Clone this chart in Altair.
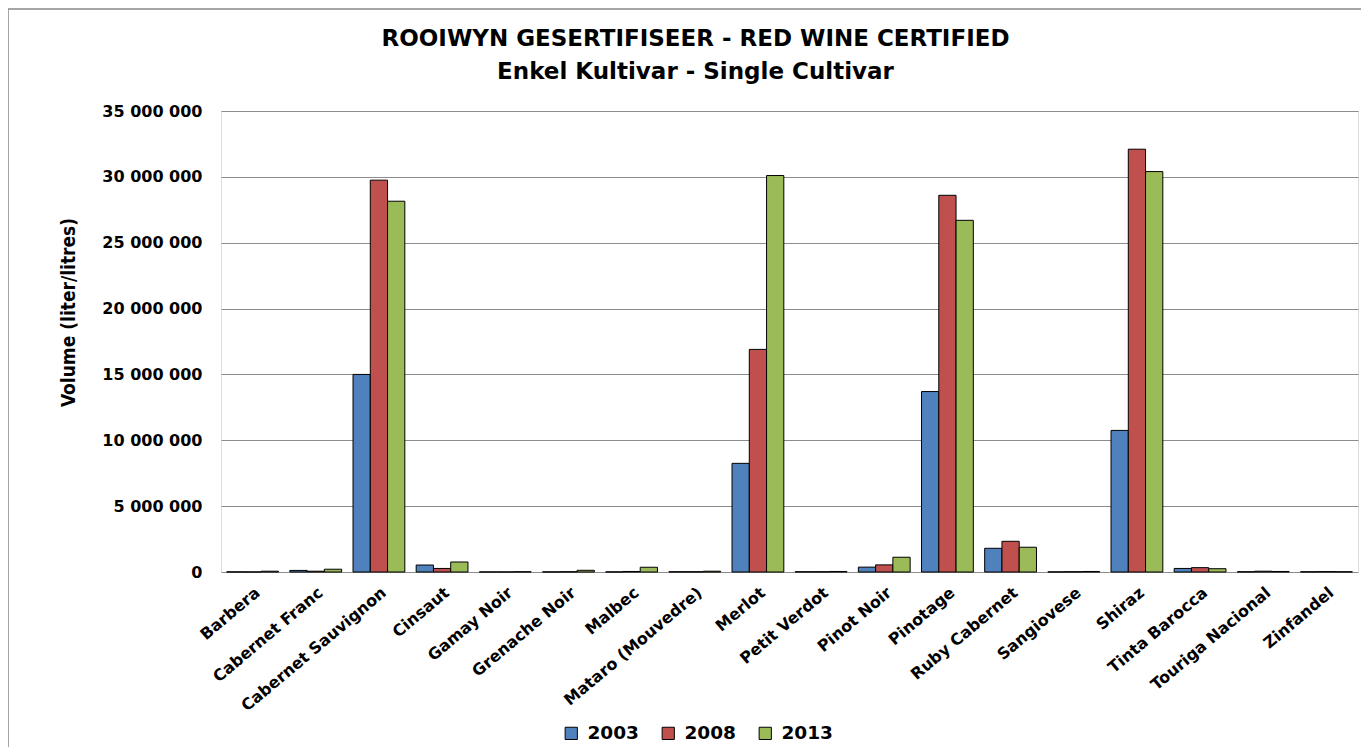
import altair as alt
import pandas as pd

cultivars = ["Barbera", "Cabernet Franc", "Cabernet Sauvignon", "Cinsaut", "Gamay Noir",
             "Grenache Noir", "Malbec", "Mataro (Mouvedre)", "Merlot", "Petit Verdot",
             "Pinot Noir", "Pinotage", "Ruby Cabernet", "Sangiovese", "Shiraz",
             "Tinta Barocca", "Touriga Nacional", "Zinfandel"]
years = ["2003", "2008", "2013"]
v2003 = [10000, 120000, 15000000, 530000, 5000, 10000, 10000, 20000, 8250000, 20000,
         370000, 13700000, 1800000, 10000, 10750000, 270000, 20000, 20000]
v2008 = [5000, 60000, 29750000, 270000, 5000, 20000, 40000, 20000, 16900000, 20000,
         540000, 28600000, 2330000, 20000, 32100000, 330000, 60000, 30000]
v2013 = [60000, 210000, 28150000, 760000, 20000, 130000, 360000, 60000, 30100000, 40000,
         1120000, 26700000, 1880000, 40000, 30400000, 250000, 40000, 20000]
colors = ["#4F81BD", "#C0504D", "#9BBB59"]

rows = []
for i, c in enumerate(cultivars):
    for y, vals in zip(years, [v2003, v2008, v2013]):
        rows.append({"cultivar": c, "year": y, "volume": vals[i]})
df = pd.DataFrame(rows)

LF = "DejaVu Sans"

bars = alt.Chart(df).mark_bar(stroke="black", strokeWidth=1).encode(
    x=alt.X("cultivar:N", sort=cultivars,
            scale=alt.Scale(paddingInner=0.18, paddingOuter=0.09),
            axis=alt.Axis(title=None, labelAngle=-40, labelAlign="right", labelBaseline="top",
                          labelFont=LF, labelFontWeight="bold", labelFontSize=16,
                          labelColor="black", ticks=False, labelPadding=12, domain=False,
                          grid=False, labelLimit=300)),
    xOffset=alt.XOffset("year:N", sort=years),
    y=alt.Y("volume:Q",
            scale=alt.Scale(domain=[0, 35000000]),
            axis=alt.Axis(title="Volume (liter/litres)", values=list(range(0, 35000001, 5000000)),
                          labelExpr="replace(format(datum.value, ','), /,/g, ' ')",
                          labelFont=LF, labelFontWeight="bold", labelFontSize=16,
                          labelColor="black", labelPadding=19, ticks=False, domain=False,
                          titleFont="DejaVu Sans Condensed", titleFontSize=19,
                          titleFontWeight="bold", titleColor="black",
                          titleX=-153, titleY=201, titleAlign="center", titleBaseline="middle",
                          titleAngle=270,
                          grid=True, gridColor="#8c8c8c", gridWidth=1)),
    color=alt.Color("year:N", sort=years,
                    scale=alt.Scale(domain=years, range=colors),
                    legend=alt.Legend(title=None, orient="none", direction="horizontal",
                                      legendX=341, legendY=613, symbolType="square",
                                      symbolSize=150, symbolStrokeColor="black",
                                      symbolStrokeWidth=1, labelFont=LF,
                                      labelFontWeight="bold", labelFontSize=18.5,
                                      labelColor="black", columnPadding=20,
                                      labelOffset=7)),
)

frame = alt.Chart(pd.DataFrame({"k": [0]})).mark_rect(
    fill=None, stroke="#888888", strokeWidth=1.5
).encode(x=alt.value(-213), x2=alt.value(1150), y=alt.value(-102), y2=alt.value(700))

chart = alt.layer(frame, bars).properties(
    width=1137, height=461,
    title=alt.TitleParams(
        text=["ROOIWYN GESERTIFISEER - RED WINE CERTIFIED", "Enkel Kultivar - Single Cultivar"],
        font=LF, fontSize=23, fontWeight="bold", color="black", anchor="middle",
        lineHeight=33, dx=-94, offset=-76, frame="group"),
    autosize=alt.AutoSizeParams(type="none"),
    padding={"left": 213, "top": 103, "right": 3, "bottom": 175},
).configure_view(stroke="#555555", strokeWidth=1.5).configure(background="white")

chart.save("out.html", embed_options={"renderer": "svg", "actions": False})
